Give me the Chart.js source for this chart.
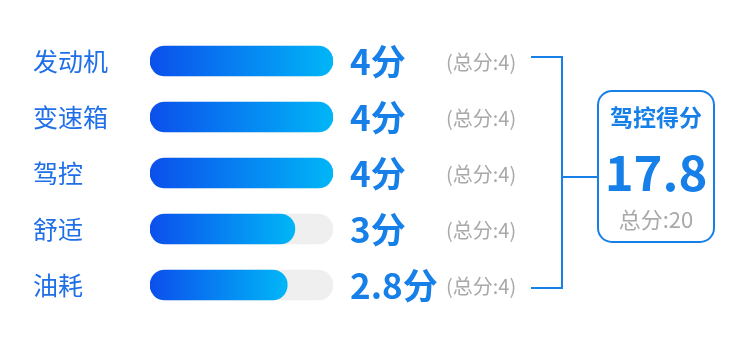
<!DOCTYPE html>
<html>
<head>
<meta charset="utf-8">
<script src="https://cdn.jsdelivr.net/npm/chart.js@4/dist/chart.umd.min.js"></script>
<style>
  html, body { margin: 0; padding: 0; background: #ffffff; }
  #wrap { width: 750px; height: 339px; }
</style>
</head>
<body>
<div id="wrap"><canvas id="scoreChart" width="750" height="339"></canvas></div>
<script>
// data
const categories = ['发动机', '变速箱', '驾控', '舒适', '油耗'];
const scores = [4, 4, 4, 3, 2.8];
const maxScores = [4, 4, 4, 4, 4];
const boxTitle = '驾控得分';

const FONT = '"Noto Sans CJK SC", "Noto Sans", sans-serif';
const BLUE = '#1680e8';
const LABEL_BLUE = '#1f6fe8';
const GREY = '#a9a9a9';

// the pill cap is part of the bar, so the axis starts a little below zero
const axisMin = -0.8;

const totalScore = scores.reduce((a, b) => a + b, 0);
const totalMax = maxScores.reduce((a, b) => a + b, 0);

function barGradient(context) {
    const chart = context.chart;
    const xScale = chart.scales.x;
    if (!chart.chartArea || !xScale) return '#0d52ec';
    const x0 = xScale.getPixelForValue(axisMin);
    const x1 = xScale.getPixelForValue(context.raw);
    const g = chart.ctx.createLinearGradient(x0, 0, x1, 0);
    g.addColorStop(0, '#0c4fec');
    g.addColorStop(1, '#00b6f7');
    return g;
}

const decorations = {
    id: 'decorations',
    afterDraw(chart) {
        const ctx = chart.ctx;
        const area = chart.chartArea;
        const y = chart.scales.y;
        ctx.save();
        ctx.textBaseline = 'middle';

        // score text and max text for each row
        scores.forEach((v, i) => {
            const cy = y.getPixelForValue(i);
            ctx.fillStyle = BLUE;
            ctx.font = 'bold 35px ' + FONT;
            ctx.textAlign = 'left';
            ctx.fillText(v + '分', area.right + 17, cy + 1);
            ctx.fillStyle = GREY;
            ctx.font = '20px ' + FONT;
            ctx.fillText('(总分:' + maxScores[i] + ')', area.right + 113, cy + 1);
        });

        // bracket
        const top = y.getPixelForValue(0) - 4;
        const bottom = y.getPixelForValue(categories.length - 1) + 3;
        const bx = 562;
        ctx.strokeStyle = BLUE;
        ctx.lineWidth = 2;
        ctx.beginPath();
        ctx.moveTo(531, top);
        ctx.lineTo(bx, top);
        ctx.lineTo(bx, bottom);
        ctx.lineTo(531, bottom);
        ctx.moveTo(bx, 177);
        ctx.lineTo(598, 177);
        ctx.stroke();

        // summary box
        const boxL = 598, boxT = 91, boxW = 116, boxH = 151;
        ctx.beginPath();
        ctx.roundRect(boxL, boxT, boxW, boxH, 14);
        ctx.fillStyle = '#ffffff';
        ctx.fill();
        ctx.stroke();

        const cx = boxL + boxW / 2;
        ctx.textAlign = 'center';
        ctx.fillStyle = BLUE;
        ctx.font = 'bold 23px ' + FONT;
        ctx.fillText(boxTitle, cx, 117);
        ctx.font = 'bold 49px ' + FONT;
        ctx.fillText(totalScore.toFixed(1), cx, 172);
        ctx.fillStyle = GREY;
        ctx.font = '22px ' + FONT;
        ctx.fillText('总分:' + totalMax, cx, 220);
        ctx.restore();
    }
};

const ctx = document.getElementById('scoreChart').getContext('2d');
const scoreChart = new Chart(ctx, {
    type: 'bar',
    data: {
        labels: categories,
        datasets: [{
            label: '得分',
            data: scores,
            base: axisMin,
            backgroundColor: barGradient,
            borderRadius: 15,
            borderSkipped: false,
            barThickness: 30,
            order: 0
        }, {
            label: '总分',
            data: maxScores,
            base: axisMin,
            backgroundColor: '#efefef',
            borderRadius: 15,
            borderSkipped: false,
            barThickness: 30,
            order: 1
        }]
    },
    options: {
        indexAxis: 'y',
        responsive: false,
        animation: false,
        grouped: false,
        layout: {
            padding: { left: 33, right: 417, top: 33, bottom: 26 }
        },
        plugins: {
            legend: { display: false },
            tooltip: { enabled: false }
        },
        scales: {
            x: {
                display: false,
                min: axisMin,
                max: 4
            },
            y: {
                grid: { display: false },
                border: { display: false },
                afterFit: function (scale) { scale.width = 117; },
                ticks: {
                    crossAlign: 'far',
                    color: LABEL_BLUE,
                    font: { family: FONT, size: 25 }
                }
            }
        }
    },
    plugins: [decorations]
});
</script>
</body>
</html>
